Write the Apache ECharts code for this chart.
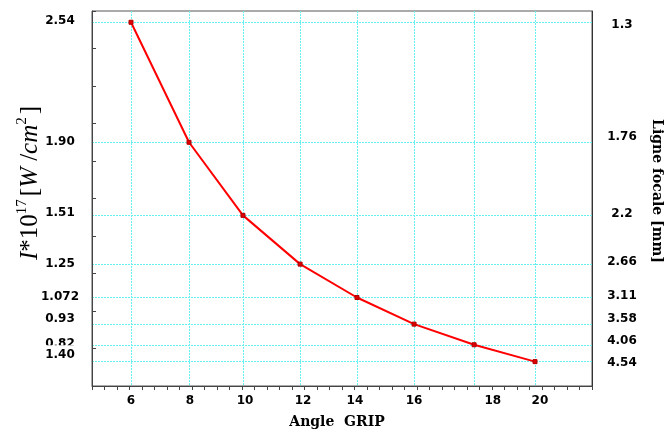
<!DOCTYPE html>
<html>
<head>
<meta charset="utf-8">
<script src="https://cdn.jsdelivr.net/npm/echarts@6/dist/echarts.min.js"></script>
<style>html,body{margin:0;padding:0;background:#fff}#c{width:667px;height:432px}</style>
</head>
<body>
<div id="c"></div>
<script>
// Data
const ANGLES = [6.00, 8.01, 9.88, 11.86, 13.83, 15.81, 17.89, 20.00];
const INTENSITY = [2.54, 1.90, 1.51, 1.25, 1.072, 0.93, 0.82, 0.73];

// Tick labels (text) and where they sit on their axes (axis units)
const X_TICK_LABELS = ['6', '8', '10', '12', '14', '16', '18', '20'];
const X_TICK_AT = [6.00, 8.04, 9.95, 11.96, 13.76, 15.81, 18.54, 20.17];
const LEFT_TICK_LABELS = ['2.54', '1.90', '1.51', '1.25', '1.072', '0.93', '0.82'];
const LEFT_TICK_AT = [2.545, 1.90, 1.521, 1.249, 1.078, 0.956, 0.827];
const LEFT_EXTRA_LABEL = ['1.40'];
const LEFT_EXTRA_AT = [0.764];
const RIGHT_TICK_LABELS = ['1.3', '1.76', '2.2', '2.66', '3.11', '3.58', '4.06', '4.54'];
const RIGHT_TICK_AT = [2.524, 1.927, 1.516, 1.26, 1.079, 0.956, 0.839, 0.725];

const X_MIN = 4.6485, X_MAX = 21.975;
const Y_MIN = 0.6, Y_MAX = 2.6;

function lookup(at, labels) {
  return function (v) {
    for (let i = 0; i < at.length; i++) if (Math.abs(at[i] - v) < 1e-6) return labels[i];
    return '';
  };
}

const labelFont = { fontFamily: 'DejaVu Sans', fontWeight: 'bold', fontSize: 12, color: '#000',
  hideOverlap: false, showMinLabel: true, showMaxLabel: true };
const gridLine = { show: true, lineStyle: { color: '#66f0f0', type: [2, 1], width: 1 } };

const chart = echarts.init(document.getElementById('c'), null, { renderer: 'canvas' });
chart.setOption({
  animation: false,
  backgroundColor: '#fff',
  grid: { left: 92, right: 75, top: 11, bottom: 46, show: true, borderColor: '#555', borderWidth: 1 },
  xAxis: [
    { // main axis: labels + vertical grid lines
      type: 'value', min: X_MIN, max: X_MAX, position: 'bottom',
      axisLine: { show: false },
      axisTick: { show: false, customValues: ANGLES },
      splitLine: gridLine,
      axisLabel: Object.assign({ customValues: X_TICK_AT, formatter: lookup(X_TICK_AT, X_TICK_LABELS), margin: 9 }, labelFont)
    },
    { // regular small ticks along bottom
      type: 'value', min: 0, max: 40, interval: 1, position: 'bottom',
      axisLine: { show: true, lineStyle: { color: '#444', width: 1 } },
      axisTick: { show: true, inside: false, length: 4, lineStyle: { color: '#444' } },
      axisLabel: { show: false }, splitLine: { show: false }
    }
  ],
  yAxis: [
    { // left: regular inside ticks
      type: 'value', min: Y_MIN, max: Y_MAX, interval: 0.2, position: 'left',
      axisLine: { show: true, lineStyle: { color: '#444', width: 1 } },
      axisTick: { show: true, inside: true, length: 4, lineStyle: { color: '#444' } },
      splitLine: { show: false },
      axisLabel: { show: false }
    },
    { // left labels + horizontal grid lines at data values
      type: 'value', min: Y_MIN, max: Y_MAX, position: 'left',
      axisLine: { show: false },
      axisTick: { show: false, customValues: INTENSITY },
      axisLabel: Object.assign({
        customValues: LEFT_TICK_AT, margin: 32, align: 'center',
        formatter: lookup(LEFT_TICK_AT, LEFT_TICK_LABELS)
      }, labelFont),
      splitLine: gridLine
    },
    { // right: focal line labels
      type: 'value', min: Y_MIN, max: Y_MAX, position: 'right',
      axisLine: { show: true, lineStyle: { color: '#333', width: 1 } },
      axisTick: { show: false },
      splitLine: { show: false },
      axisLabel: Object.assign({
        customValues: RIGHT_TICK_AT, margin: 30, align: 'center',
        formatter: lookup(RIGHT_TICK_AT, RIGHT_TICK_LABELS)
      }, labelFont)
    },
    { // extra left label drawn over the previous one
      type: 'value', min: Y_MIN, max: Y_MAX, position: 'left',
      axisLine: { show: false }, axisTick: { show: false }, splitLine: { show: false },
      axisLabel: Object.assign({
        customValues: LEFT_EXTRA_AT, margin: 32, align: 'center',
        formatter: lookup(LEFT_EXTRA_AT, LEFT_EXTRA_LABEL),
        backgroundColor: '#fff', padding: [6, 2, 2, 2]
      }, labelFont)
    }
  ],
  series: [{
    type: 'line',
    xAxisIndex: 0, yAxisIndex: 0,
    data: ANGLES.map((a, i) => [a, INTENSITY[i]]),
    lineStyle: { color: '#ff0000', width: 2 },
    itemStyle: { color: '#e00000', borderColor: '#b00000', borderWidth: 1 },
    symbol: 'rect', symbolSize: 4, showSymbol: true,
    z: 5
  }],
  graphic: [
    {
      type: 'text', x: 29, y: 183, rotation: Math.PI / 2,
      style: {
        text: '{i|I}{n|*10}{s|17}{n|[}{i|W}{n| /}{i|cm}{s|2}{n|]}',
        align: 'center', verticalAlign: 'middle',
        rich: {
          i: { fontFamily: 'Liberation Serif', fontStyle: 'italic', fontSize: 25, lineHeight: 28, verticalAlign: 'bottom' },
          n: { fontFamily: 'Liberation Serif', fontSize: 25, lineHeight: 28, verticalAlign: 'bottom' },
          s: { fontFamily: 'Liberation Serif', fontSize: 15, lineHeight: 28, verticalAlign: 'top', padding: [0, 3, 0, 0] }
        },
        fill: '#000'
      }
    },
    {
      type: 'text', x: 657, y: 191, rotation: -Math.PI / 2,
      style: { text: 'Ligne focale [mm]', align: 'center', verticalAlign: 'middle',
        fontFamily: 'DejaVu Serif', fontWeight: 'bold', fontSize: 14, fill: '#000' }
    },
    {
      type: 'text', x: 337, y: 422,
      style: { text: 'Angle  GRIP', align: 'center', verticalAlign: 'middle',
        fontFamily: 'DejaVu Serif', fontWeight: 'bold', fontSize: 14, fill: '#000' }
    }
  ]
});
</script>
</body>
</html>
